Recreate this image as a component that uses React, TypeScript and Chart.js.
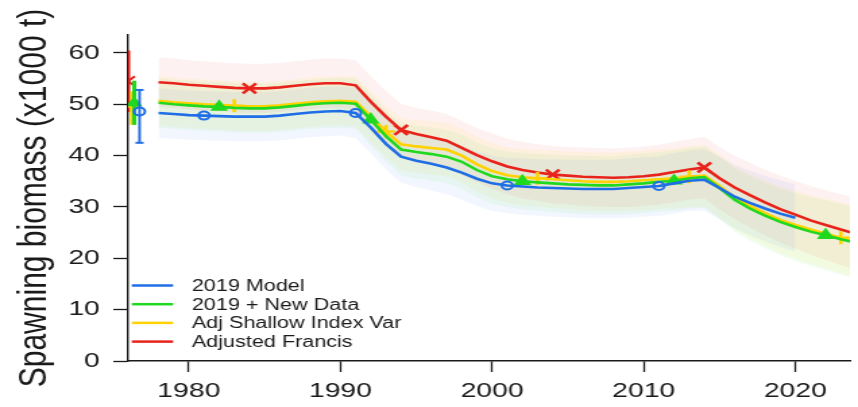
import React, { useEffect, useRef } from 'react';
import { Chart, registerables } from 'chart.js';

Chart.register(...registerables);

const FONT = '"Liberation Sans", Arial, Helvetica, sans-serif';
const INNER_W = 636;
const STRETCH = 858 / INNER_W;

// ---- data ----
const years = [
  1978, 1979, 1980, 1981, 1982, 1983, 1984, 1985, 1986, 1987, 1988, 1989, 1990,
  1991, 1992, 1993, 1994, 1995, 1996, 1997, 1998, 1999, 2000,
  2001, 2002, 2003, 2004, 2005, 2006, 2007, 2008, 2009, 2010,
  2011, 2012, 2013, 2014, 2015, 2016, 2017, 2018, 2019, 2020,
  2021, 2022, 2023, 2024,
];

const model2019 = [
  48.3, 48.1, 47.9, 47.8, 47.7, 47.6, 47.6, 47.6, 47.8, 48.1, 48.4, 48.6, 48.7,
  48.3, 45.5, 42.3, 39.8, 39.0, 38.4, 37.7, 36.7, 35.5, 34.6,
  34.2, 34.0, 33.8, 33.7, 33.6, 33.5, 33.5, 33.5, 33.7, 33.9,
  34.1, 34.6, 35.1, 35.3, 33.7, 32.0, 30.8, 29.7, 28.7, 27.9,
];

const newData2019 = [
  50.3, 50.0, 49.8, 49.6, 49.5, 49.3, 49.2, 49.2, 49.4, 49.7, 50.0, 50.2, 50.3,
  50.1, 47.0, 43.8, 41.2, 40.7, 40.3, 39.8, 38.8, 37.2, 36.0,
  35.4, 35.0, 34.8, 34.6, 34.4, 34.3, 34.2, 34.2, 34.4, 34.6,
  34.9, 35.1, 35.6, 35.8, 33.7, 31.4, 29.7, 28.3, 27.1, 26.1,
  25.2, 24.5, 23.7, 23.0,
];

const adjShallow = [
  50.7, 50.4, 50.2, 50.0, 49.9, 49.7, 49.6, 49.6, 49.8, 50.1, 50.4, 50.6, 50.7,
  50.5, 47.6, 44.7, 42.2, 41.8, 41.5, 41.2, 40.0, 38.3, 37.0,
  36.2, 35.8, 35.6, 35.4, 35.2, 35.0, 34.9, 34.9, 35.0, 35.2,
  35.4, 35.6, 35.9, 36.1, 34.1, 31.8, 30.2, 28.8, 27.5, 26.5,
  25.6, 24.8, 24.0, 23.3,
];

const adjFrancis = [
  54.3, 54.1, 53.8, 53.6, 53.4, 53.2, 53.1, 53.1, 53.3, 53.6, 53.9, 54.1, 54.1,
  53.7, 50.5, 47.6, 45.0, 44.2, 43.6, 42.9, 41.5, 40.1, 38.9,
  37.9, 37.2, 36.7, 36.3, 36.1, 35.9, 35.8, 35.7, 35.8, 36.0,
  36.3, 36.8, 37.3, 37.7, 35.6, 33.8, 32.3, 30.9, 29.6, 28.5,
  27.4, 26.5, 25.6, 24.8,
];

// half-width of the shaded intervals, per year
const ciHalf = [
  4.8, 4.8, 4.8, 4.8, 4.8, 4.8, 4.8, 4.8, 4.8, 4.8, 4.8, 4.8, 4.8,
  4.9, 5.0, 5.0, 5.1, 5.1, 5.2, 5.2, 5.3, 5.3, 5.4,
  5.4, 5.5, 5.5, 5.6, 5.6, 5.7, 5.7, 5.7, 5.8, 5.8,
  5.8, 5.9, 5.9, 6.0, 6.1, 6.2, 6.3, 6.4, 6.5, 6.6,
  6.7, 6.8, 6.9, 7.0,
];

const seriesLabels = ['2019 Model', '2019 + New Data', 'Adj Shallow Index Var', 'Adjusted Francis'];
const seriesColors = ['#1f6ee6', '#1fd81f', '#ffd200', '#e8231c'];
const bandColors = [
  'rgba(60,120,240,0.065)',
  'rgba(60,225,60,0.065)',
  'rgba(255,215,0,0.08)',
  'rgba(245,70,70,0.075)',
];
const seriesValues = [model2019, newData2019, adjShallow, adjFrancis];
const markerYears = [
  [1981, 1991, 2001, 2011],
  [1982, 1992, 2002, 2012, 2022],
  [1983, 1993, 2003, 2013, 2023],
  [1984, 1994, 2004, 2014],
];
const markerStyles = ['circle', 'triangle', 'cross', 'crossRot'];
const markerRadius = [4, 5, 6.5, 7];

// unfished (initial) biomass with intervals
const b0X = [1976.75, 1976.4, 1976.25, 1976.0];
const b0Value = [48.6, 50.3, 49.5, 54.5];
const b0Low = [42.5, 46.0, 46.0, 48.5];
const b0High = [52.8, 54.6, 52.5, 60.5];

const xTicks = [1980, 1990, 2000, 2010, 2020];
const yTicks = [0, 10, 20, 30, 40, 50, 60];

const legendPlugin = {
  id: 'insideLegend',
  afterDraw(chart: any) {
    const { ctx, chartArea } = chart;
    ctx.save();
    ctx.font = `16px ${FONT}`;
    ctx.textBaseline = 'middle';
    ctx.textAlign = 'left';
    seriesLabels.forEach((label, i) => {
      const y = chartArea.bottom - 75.5 + i * 18.7;
      const x0 = chartArea.left + 2.7;
      ctx.strokeStyle = seriesColors[i];
      ctx.lineWidth = 2.5;
      ctx.beginPath();
      ctx.moveTo(x0, y);
      ctx.lineTo(x0 + 30.6, y);
      ctx.stroke();
      ctx.fillStyle = '#1a1a1a';
      ctx.fillText(label, x0 + 44.5, y + 1);
    });
    ctx.restore();
  },
};

export default function App() {
  const ref = useRef<HTMLCanvasElement>(null);

  useEffect(() => {
    document.body.style.margin = '0';
    const canvas = ref.current;
    if (!canvas) return;

    const datasets: any[] = [];

    // lines with markers
    seriesValues.forEach((vals, i) => {
      const marks = markerYears[i];
      datasets.push({
        label: seriesLabels[i],
        data: vals.map((v, k) => ({ x: years[k], y: v })),
        borderColor: seriesColors[i],
        backgroundColor: i === 0 ? 'rgba(0,0,0,0)' : seriesColors[i],
        borderWidth: 2.6,
        tension: 0,
        pointStyle: markerStyles[i],
        pointRadius: (c: any) => (c.raw && marks.includes(c.raw.x) ? markerRadius[i] : 0),
        pointBorderColor: seriesColors[i],
        pointBackgroundColor: i === 0 ? 'rgba(0,0,0,0)' : seriesColors[i],
        pointBorderWidth: i === 0 ? 2 : 2.6,
        fill: false,
        order: 1,
      });
    });

    // B0 error bars with markers
    b0X.forEach((x, i) => {
      datasets.push({
        label: 'B0 ' + seriesLabels[i],
        data: [
          { x, y: b0Low[i] },
          { x, y: b0Value[i] },
          { x, y: b0High[i] },
        ],
        borderColor: seriesColors[i],
        backgroundColor: i === 0 ? 'rgba(0,0,0,0)' : seriesColors[i],
        borderWidth: i === 0 ? 2 : 3,
        pointStyle: ['line', markerStyles[i], 'line'],
        pointRadius: [i === 0 ? 3 : 0, markerRadius[i], i === 0 ? 3 : 0],
        pointBorderColor: seriesColors[i],
        pointBackgroundColor: i === 0 ? 'rgba(0,0,0,0)' : seriesColors[i],
        pointBorderWidth: 2,
        fill: false,
        order: 0,
      });
    });

    // shaded intervals
    seriesValues.forEach((vals, i) => {
      datasets.push({
        label: 'upper ' + i,
        data: vals.map((v, k) => ({ x: years[k], y: v + ciHalf[k] })),
        borderWidth: 0,
        borderColor: 'rgba(0,0,0,0)',
        pointRadius: 0,
        fill: false,
        order: 5,
      });
      datasets.push({
        label: 'lower ' + i,
        data: vals.map((v, k) => ({ x: years[k], y: v - ciHalf[k] })),
        borderWidth: 0,
        borderColor: 'rgba(0,0,0,0)',
        backgroundColor: bandColors[i],
        pointRadius: 0,
        fill: '-1',
        order: 5,
      });
    });

    const chart = new Chart(canvas, {
      type: 'line',
      data: { datasets },
      options: {
        animation: false,
        responsive: true,
        maintainAspectRatio: false,
        events: [],
        layout: { padding: { top: 35, left: 0, right: 0, bottom: 0 } },
        plugins: {
          legend: { display: false },
          tooltip: { enabled: false },
        },
        scales: {
          x: {
            type: 'linear',
            min: 1976,
            max: 2023.6,
            afterBuildTicks: (s: any) => {
              s.ticks = xTicks.map((v) => ({ value: v }));
            },
            afterFit: (s: any) => {
              s.height = 46;
            },
            grid: {
              display: true,
              drawOnChartArea: false,
              drawTicks: true,
              tickLength: 11,
              tickColor: '#1a1a1a',
              tickWidth: 1.3,
            },
            border: { display: true, color: '#1a1a1a', width: 1.4 },
            ticks: {
              font: { size: 21, family: FONT },
              color: '#1a1a1a',
              padding: 7,
              maxRotation: 0,
              autoSkip: false,
              callback: (v: any) => String(v),
            },
          },
          y: {
            type: 'linear',
            min: 0,
            max: 63.5,
            afterBuildTicks: (s: any) => {
              s.ticks = yTicks.map((v) => ({ value: v }));
            },
            afterFit: (s: any) => {
              s.width = 95;
            },
            grid: {
              display: true,
              drawOnChartArea: false,
              drawTicks: true,
              tickLength: 11,
              tickColor: '#1a1a1a',
              tickWidth: 1.3,
            },
            border: { display: true, color: '#1a1a1a', width: 1.4 },
            ticks: {
              font: { size: 21, family: FONT },
              color: '#1a1a1a',
              padding: 10,
              autoSkip: false,
              callback: (v: any) => String(v),
            },
            title: {
              display: true,
              text: 'Spawning biomass (x1000 t)',
              font: { size: 30, family: FONT },
              color: '#1a1a1a',
              padding: { top: 8, bottom: 0 },
            },
          },
        },
      },
      plugins: [legendPlugin],
    } as any);

    return () => chart.destroy();
  }, []);

  return (
    <div style={{ width: 858, height: 407, overflow: 'hidden', background: '#fff' }}>
      <div
        style={{
          width: INNER_W,
          height: 407,
          position: 'relative',
          transform: `scaleX(${STRETCH})`,
          transformOrigin: '0 0',
        }}
      >
        <canvas ref={ref} />
      </div>
    </div>
  );
}
